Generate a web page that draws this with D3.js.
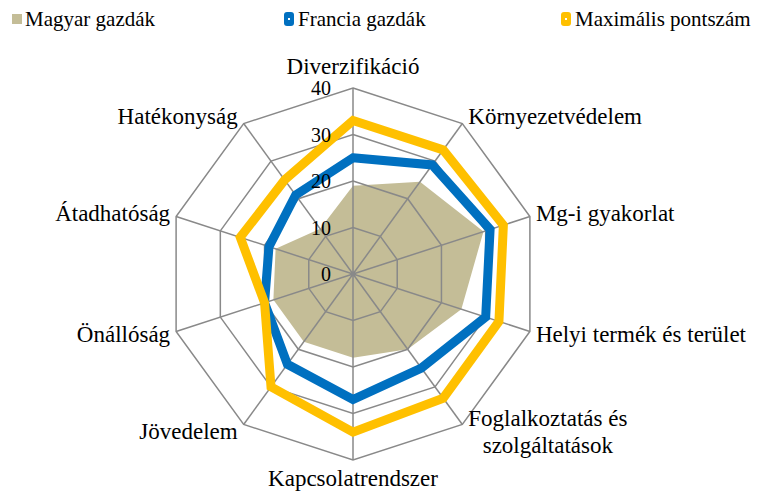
<!DOCTYPE html>
<html>
<head>
<meta charset="utf-8">
<script src="https://cdn.jsdelivr.net/npm/d3@7"></script>
<style>
    body { margin: 0; background: #fff; }
    svg { display: block; font-family: "Liberation Serif", "Times New Roman", serif; }
</style>
</head>
<body>
<div id="chart"></div>
<script>
// categories clockwise from the top
const categories = ["Diverzifikáció", "Környezetvédelem", "Mg-i gyakorlat", "Helyi termék és terület",
    "Foglalkoztatás és\nszolgáltatások", "Kapcsolatrendszer", "Jövedelem", "Önállóság", "Átadhatóság", "Hatékonyság"];

const magyar    = [19, 24.5, 29.5, 24.5, 20, 18, 18, 18, 17.5, 12];
const francia   = [25, 29, 31, 30, 25, 27, 24, 20, 19, 21];
const maximalis = [33, 33, 34, 33, 33, 34, 30, 20, 25.5, 25];

const seriesNames = ["Magyar gazdák", "Francia gazdák", "Maximális pontszám"];
const ticks = [0, 10, 20, 30, 40];

const width = 760;
const height = 493;
const cx = 353, cy = 274, radius = 186;

const svg = d3.select("#chart")
    .append("svg")
    .attr("width", width)
    .attr("height", height);

/*
SCALES
*/
const rScale = d3.scaleLinear()
    .domain([0, 40])
    .range([0, radius]);

const angle = d3.scaleLinear()
    .domain([0, categories.length])
    .range([0, 2 * Math.PI]);

const colors = d3.scaleOrdinal()
    .domain(seriesNames)
    .range(["#C4BD97", "#0070C0", "#FFC000"]);

const g = svg.append("g").attr("transform", `translate(${cx},${cy})`);

function point(i, v) {
    const a = angle(i);
    return [Math.sin(a) * rScale(v), -Math.cos(a) * rScale(v)];
}

const radial = d3.lineRadial()
    .angle(function(d, i) { return angle(i); })
    .radius(function(d) { return rScale(d); })
    .curve(d3.curveLinearClosed);

/*
MAGYAR AREA (under the grid)
*/
g.append("path")
    .attr("d", radial(magyar))
    .attr("fill", colors("Magyar gazdák"));

/*
GRID
*/
ticks.filter(t => t > 0).forEach(function(t) {
    g.append("path")
        .attr("d", radial(categories.map(() => t)))
        .attr("fill", "none")
        .attr("stroke", "#898989")
        .attr("stroke-width", 1.5);
});

categories.forEach(function(c, i) {
    const p = point(i, 40);
    g.append("line")
        .attr("x1", 0).attr("y1", 0)
        .attr("x2", p[0]).attr("y2", p[1])
        .attr("stroke", "#898989")
        .attr("stroke-width", 1.5);
});

g.append("circle").attr("r", 2.5).attr("fill", "#898989");

/*
LINES
*/
[[francia, "Francia gazdák"], [maximalis, "Maximális pontszám"]].forEach(function(s) {
    g.append("path")
        .attr("d", radial(s[0]))
        .attr("fill", "none")
        .attr("stroke", colors(s[1]))
        .attr("stroke-width", 9)
        .attr("stroke-linejoin", "miter");
});

/*
TICK LABELS
*/
g.selectAll(".tick")
    .data(ticks)
    .enter()
    .append("text")
        .attr("x", -22)
        .attr("y", d => -rScale(d))
        .attr("dy", "0.35em")
        .attr("text-anchor", "end")
        .attr("font-size", 20)
        .attr("fill", "#000")
        .text(d => d);

/*
CATEGORY LABELS
*/
categories.forEach(function(c, i) {
    const a = angle(i);
    const p = point(i, 40);
    const s = Math.sin(a), co = Math.cos(a);
    const lines = c.split("\n");
    const lineH = 27.5;
    let yc;
    if (co > 0.99) yc = p[1] - 22;
    else if (co < -0.99) yc = p[1] + 18;   // bottom label kept inside the frame
    else yc = p[1] - co * 9;
    const t = g.append("text")
        .attr("font-size", 23)
        .attr("fill", "#000");
    lines.forEach(function(l, k) {
        t.append("tspan")
            .attr("y", yc + (k - (lines.length - 1) / 2) * lineH)
            .attr("dy", "0.33em")
            .text(l);
    });
    if (Math.abs(s) < 0.1) {
        t.attr("text-anchor", "middle").selectAll("tspan").attr("x", p[0]);
    } else if (lines.length > 1) {
        const w = d3.max(t.selectAll("tspan").nodes(), n => n.getComputedTextLength());
        t.attr("text-anchor", "middle").selectAll("tspan")
            .attr("x", p[0] + (s > 0 ? 6 + w / 2 : -6 - w / 2));
    } else {
        t.attr("text-anchor", s > 0 ? "start" : "end")
            .selectAll("tspan").attr("x", p[0] + (s > 0 ? 6 : -6));
    }
});

/*
LEGEND
*/
const legendX = [12, 284, 561];
const legend = svg.append("g").attr("font-size", 21);

legend.append("rect")
    .attr("x", legendX[0]).attr("y", 14)
    .attr("width", 10).attr("height", 10)
    .attr("fill", colors(seriesNames[0]));

[1, 2].forEach(function(k) {
    legend.append("rect")
        .attr("x", legendX[k]).attr("y", 12)
        .attr("width", 10).attr("height", 14)
        .attr("rx", 3)
        .attr("fill", colors(seriesNames[k]));
    legend.append("rect")
        .attr("x", legendX[k] + 4).attr("y", 18)
        .attr("width", 2).attr("height", 2)
        .attr("fill", "#fff");
});

seriesNames.forEach(function(n, k) {
    legend.append("text")
        .attr("x", legendX[k] + (k === 0 ? 13 : 14))
        .attr("y", 26)
        .attr("fill", "#000")
        .text(n);
});
</script>
</body>
</html>
